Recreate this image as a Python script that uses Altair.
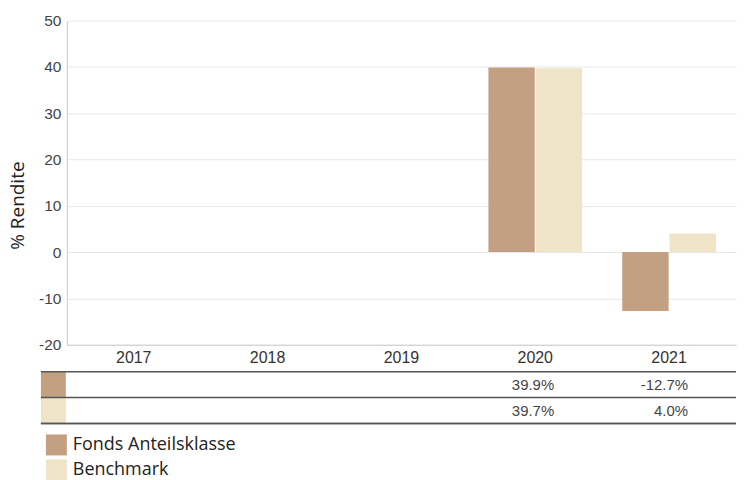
import altair as alt
import pandas as pd

years = ["2017", "2018", "2019", "2020", "2021"]
series = ["Fonds Anteilsklasse", "Benchmark"]
fonds = [None, None, None, 39.9, -12.7]
bench = [None, None, None, 39.7, 4.0]
colors = ["#c4a082", "#f0e4c8"]

rows = []
for s, vals in zip(series, [fonds, bench]):
    for y, v in zip(years, vals):
        if v is not None:
            rows.append({"year": y, "series": s, "value": v, "label": f"{v:.1f}%"})
df = pd.DataFrame(rows)
frame = pd.DataFrame({"series": series})

W = 671
FONT = "Liberation Sans"
TFONT = "Open Sans"

xscale = alt.Scale(domain=years, paddingInner=0.3, paddingOuter=0.15)
cscale = alt.Scale(domain=series, range=colors)
rowscale = alt.Scale(domain=series, paddingInner=0, paddingOuter=0)

bars = alt.Chart(df).mark_bar().encode(
    x=alt.X("year:N", sort=years, scale=xscale,
            axis=alt.Axis(title=None, labelAngle=0, ticks=False, domainColor="#cccccc",
                          labelPadding=5, labelFontSize=16, labelColor="#333333", labelFont=FONT,
                          grid=False)),
    xOffset=alt.XOffset("series:N", sort=series, scale=alt.Scale(domain=series, paddingInner=0.02)),
    y=alt.Y("value:Q", scale=alt.Scale(domain=[-20, 50], nice=False),
            axis=alt.Axis(values=list(range(-20, 51, 10)), title="% Rendite", ticks=False,
                          labelExpr="toString(datum.value)",
                          domainColor="#cccccc", gridColor="#e8e8e8", labelPadding=6,
                          labelFontSize=15.5, labelColor="#444444", labelFont=FONT,
                          titleFont=TFONT, titleFontSize=19, titleFontWeight="normal",
                          titleColor="#222222", titlePadding=11, titleY=185)),
    color=alt.Color("series:N", scale=cscale, legend=None),
).properties(width=W, height=325)

texts = alt.Chart(df).mark_text(align="right", baseline="middle", dx=19, font=FONT,
                                fontSize=15, color="#444444").encode(
    x=alt.X("year:N", sort=years, scale=xscale, axis=None),
    y=alt.Y("series:N", sort=series, scale=rowscale, axis=None),
    text="label:N",
)

swatch = alt.Chart(frame).mark_rect().encode(
    x=alt.value(-26), x2=alt.value(-1),
    y=alt.Y("series:N", sort=series, scale=rowscale, axis=None),
    color=alt.Color("series:N", scale=cscale,
                    legend=alt.Legend(title=None, orient="none", legendX=-21, legendY=63,
                                      symbolType="square", symbolSize=441, symbolStrokeWidth=0,
                                      symbolOpacity=1, labelFont=TFONT, labelFontSize=18,
                                      labelLimit=0,
                                      labelColor="#222222", rowPadding=4, padding=0, labelOffset=6)),
)

lines_top = alt.Chart(frame).mark_rule(color="#555555", strokeWidth=1.5).encode(
    x=alt.value(-26), x2=alt.value(W),
    y=alt.Y("series:N", sort=series, bandPosition=0, scale=rowscale, axis=None),
)
line_bottom = alt.Chart(frame).mark_rule(color="#555555", strokeWidth=1.5).encode(
    x=alt.value(-26), x2=alt.value(W), y=alt.value(52),
)

table = alt.layer(swatch, lines_top, line_bottom, texts).properties(width=W, height=52)

chart = alt.vconcat(bars, table, spacing=5).resolve_legend(color="independent").properties(
    padding={"left": 0, "top": 5, "right": 0, "bottom": 0}
).configure_view(stroke=None)

chart.save("out.html", embed_options={"renderer": "svg", "actions": False})
